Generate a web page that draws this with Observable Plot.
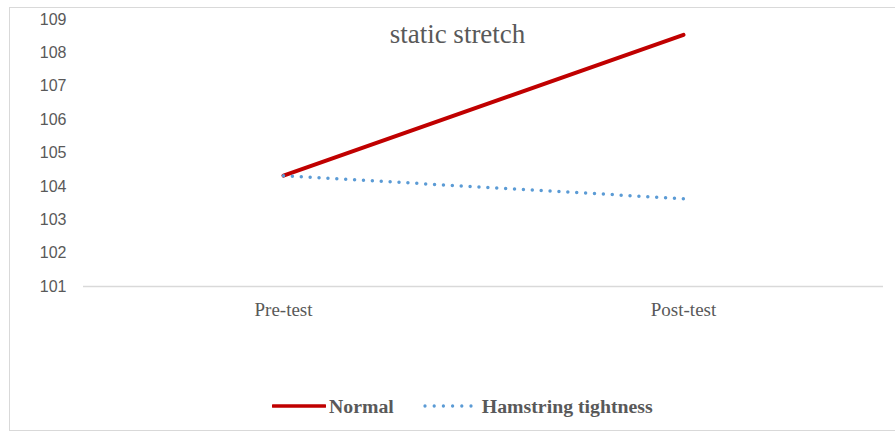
<!DOCTYPE html>
<html>
<head>
<meta charset="utf-8">
<script src="https://cdn.jsdelivr.net/npm/d3@7"></script>
<script src="https://cdn.jsdelivr.net/npm/@observablehq/plot@0.6"></script>
<style>
  html, body { margin: 0; padding: 0; background: #fff; overflow: hidden; }
  #wrap { position: relative; width: 895px; height: 434px; overflow: hidden; }
  #frame { position: absolute; left: 9px; top: 7px; width: 900px; height: 424px; border: 1px solid #d9d9d9; box-sizing: border-box; }
  #chart { position: absolute; left: 0; top: 0; }
  #title { position: absolute; left: 0; width: 915px; top: 19px; text-align: center; font-family: "Liberation Serif", serif; font-size: 27px; color: #595959; }
  #legend { position: absolute; left: 272px; top: 394px; height: 24px; display: flex; align-items: center; font-family: "Liberation Serif", serif; font-weight: bold; font-size: 19.8px; color: #595959; }
  #legend svg { display: block; }
</style>
</head>
<body>
<div id="wrap">
  <div id="frame"></div>
  <div id="chart"></div>
  <div id="title">static stretch</div>
  <div id="legend"></div>
</div>
<script>
const phases = ["Pre-test", "Post-test"];
const seriesNames = ["Normal", "Hamstring tightness"];
const normalValues = [104.32, 108.54];
const hamstringValues = [104.32, 103.63];
const yTicks = [101, 102, 103, 104, 105, 106, 107, 108, 109];
const colors = ["#C00000", "#5B9BD5"];

const rows = [];
phases.forEach((p, i) => {
  rows.push({phase: p, series: seriesNames[0], value: normalValues[i]});
  rows.push({phase: p, series: seriesNames[1], value: hamstringValues[i]});
});

const plot = Plot.plot({
  width: 895,
  height: 330,
  marginLeft: 83,
  marginRight: 12,
  marginTop: 19,
  marginBottom: 44,
  style: {background: "transparent", overflow: "visible"},
  x: {type: "point", domain: phases, padding: 0.5, label: null},
  y: {domain: [101, 109], label: null},
  marks: [
    Plot.axisY({ticks: yTicks, tickSize: 0, tickPadding: 17, tickFormat: d => String(d),
      fontSize: 16, fontFamily: "Liberation Sans, sans-serif", fill: "#595959", label: null}),
    Plot.axisX({tickSize: 0, tickPadding: 16, fontSize: 19, fontFamily: "Liberation Serif, serif",
      fill: "#595959", label: null}),
    Plot.ruleY([101], {stroke: "#d9d9d9", strokeWidth: 1.5}),
    Plot.line(rows.filter(d => d.series === seriesNames[0]), {
      x: "phase", y: "value", stroke: colors[0], strokeWidth: 4, strokeLinecap: "round"}),
    Plot.line(rows.filter(d => d.series === seriesNames[1]), {
      x: "phase", y: "value", stroke: colors[1], strokeWidth: 3.5, strokeLinecap: "round",
      strokeDasharray: "0 8.9"})
  ]
});
document.getElementById("chart").appendChild(plot);

// legend
const lg = d3.select("#legend");
const s1 = lg.append("svg").attr("width", 54).attr("height", 10);
s1.append("line").attr("x1", 1).attr("x2", 53).attr("y1", 5).attr("y2", 5)
  .attr("stroke", colors[0]).attr("stroke-width", 3.5).attr("stroke-linecap", "round");
lg.append("span").text(seriesNames[0]).style("margin-left", "3px");
const s2 = lg.append("svg").attr("width", 50).attr("height", 10).style("margin-left", "29px");
s2.append("line").attr("x1", 2).attr("x2", 48).attr("y1", 5).attr("y2", 5)
  .attr("stroke", colors[1]).attr("stroke-width", 3.3).attr("stroke-linecap", "round")
  .attr("stroke-dasharray", "0 9.2");
lg.append("span").text(seriesNames[1]).style("margin-left", "9px");
</script>
</body>
</html>
